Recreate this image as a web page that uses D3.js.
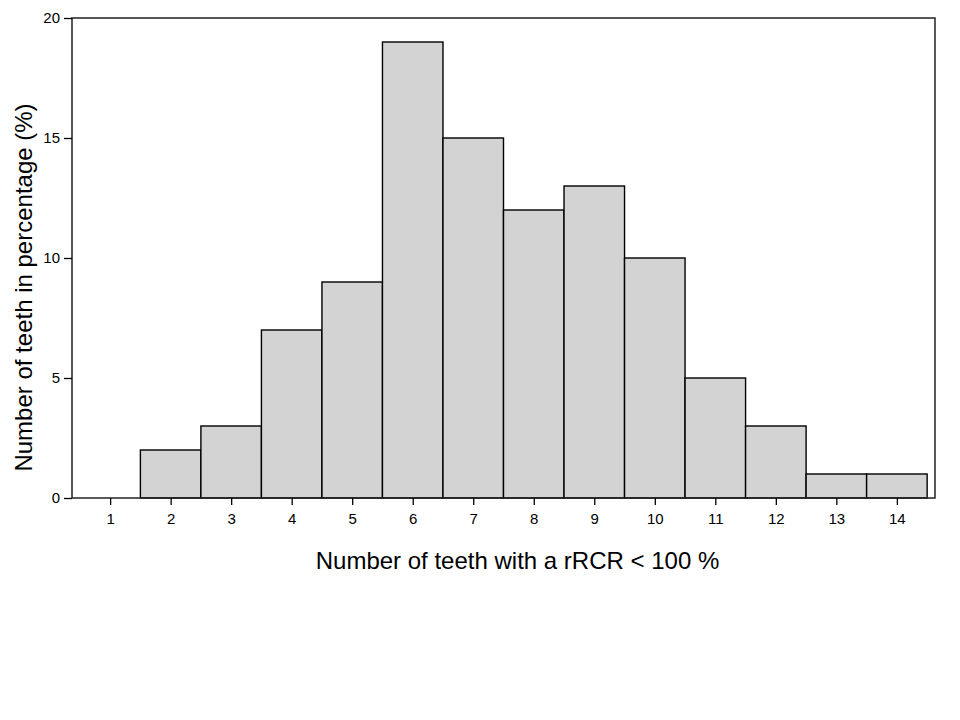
<!DOCTYPE html>
<html>
<head>
<meta charset="utf-8">
<script src="https://cdn.jsdelivr.net/npm/d3@7"></script>
<style>
  body { margin: 0; background: #fff; }
  svg { display: block; }
</style>
</head>
<body>
<div id="chart"></div>
<script>
// data
var categories = [1, 2, 3, 4, 5, 6, 7, 8, 9, 10, 11, 12, 13, 14];
var percentages = [0, 2, 3, 7, 9, 19, 15, 12, 13, 10, 5, 3, 1, 1];
var yTicks = [0, 5, 10, 15, 20];

var svgWidth = 960, svgHeight = 720,
    plotLeft = 72, plotRight = 935, plotTop = 18, plotBottom = 498;

var svg = d3.select("#chart").append("svg")
    .attr("width", svgWidth)
    .attr("height", svgHeight)
    .style("font-family", "'Liberation Sans', Arial, sans-serif");

var x = d3.scaleLinear().domain([0.37, 14.63]).range([plotLeft, plotRight]);
var y = d3.scaleLinear().domain([0, 20]).range([plotBottom, plotTop]);

// bars
svg.append("g").selectAll("rect")
   .data(categories)
   .enter().append("rect")
   .attr("x", function(d) { return x(d - 0.5); })
   .attr("y", function(d, i) { return y(percentages[i]); })
   .attr("width", function(d) { return x(d + 0.5) - x(d - 0.5); })
   .attr("height", function(d, i) { return y(0) - y(percentages[i]); })
   .attr("fill", "#d3d3d3")
   .attr("stroke", "#000")
   .attr("stroke-width", 1.4);

// frame
svg.append("rect")
   .attr("x", plotLeft).attr("y", plotTop)
   .attr("width", plotRight - plotLeft).attr("height", plotBottom - plotTop)
   .attr("fill", "none")
   .attr("stroke", "#222")
   .attr("stroke-width", 1.5);

// axes
var yAxis = d3.axisLeft(y).tickValues(yTicks).tickSize(8).tickPadding(4);
var gy = svg.append("g").attr("transform", "translate(" + plotLeft + ",0)").call(yAxis);
var xAxis = d3.axisBottom(x).tickValues(categories).tickSize(7).tickPadding(8);
var gx = svg.append("g").attr("transform", "translate(0," + plotBottom + ")").call(xAxis);

[gy, gx].forEach(function(g) {
  g.attr("font-size", null).attr("font-family", null);
  g.select(".domain").remove();
  g.selectAll(".tick line").attr("stroke", "#000").attr("stroke-width", 1.3);
  g.selectAll(".tick text")
   .style("font-family", "'Liberation Sans', Arial, sans-serif")
   .style("font-size", "15px")
   .attr("fill", "#000");
});

// titles
svg.append("text")
   .attr("x", 517.5)
   .attr("y", 569)
   .attr("text-anchor", "middle")
   .style("font-size", "24px")
   .attr("fill", "#000")
   .text("Number of teeth with a rRCR < 100 %");

svg.append("text")
   .attr("transform", "translate(32," + 287.5 + ") rotate(-90)")
   .attr("text-anchor", "middle")
   .style("font-size", "24px")
   .attr("fill", "#000")
   .text("Number of teeth in percentage (%)");
</script>
</body>
</html>
